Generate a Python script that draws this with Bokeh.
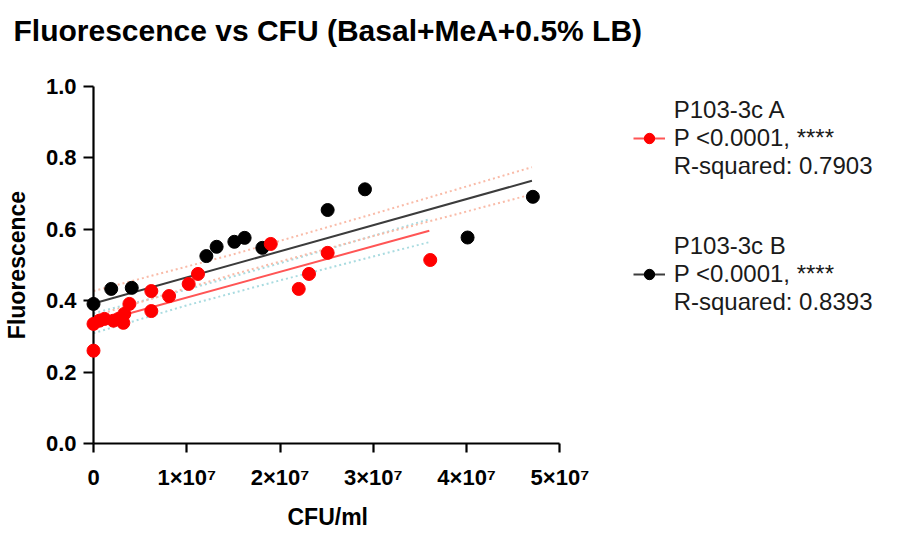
import numpy as np
from bokeh.plotting import figure
from bokeh.models import (Range1d, FixedTicker, PrintfTickFormatter,
                          Legend, LegendItem, Title)
from bokeh.embed import file_html
from bokeh.resources import INLINE

# ---------------- data ----------------
a_name = "P103-3c A"
a_cfu = [0, 0, 0.064e7, 0.118e7, 0.214e7, 0.267e7, 0.32e7, 0.33e7, 0.385e7,
         0.62e7, 0.62e7, 0.81e7, 1.02e7, 1.12e7, 1.9e7, 2.2e7, 2.31e7, 2.51e7, 3.61e7]
a_fluor = [0.260, 0.335, 0.344, 0.349, 0.344, 0.349, 0.338, 0.363, 0.391,
           0.427, 0.371, 0.413, 0.447, 0.475, 0.559, 0.433, 0.475, 0.534, 0.514]

b_name = "P103-3c B"
b_cfu = [0, 0.19e7, 0.41e7, 1.21e7, 1.32e7, 1.51e7, 1.62e7, 1.81e7,
         2.51e7, 2.91e7, 4.01e7, 4.71e7]
b_fluor = [0.391, 0.433, 0.436, 0.525, 0.551, 0.565, 0.576, 0.548,
           0.654, 0.712, 0.577, 0.691]

# regression lines and 95% bands
a_fit_x = [0, 3.6e7]
a_fit_y = [0.337, 0.596]
a_band_x = [0, 1e7, 2e7, 3.6e7]
a_band_upper = [0.365, 0.431, 0.505, 0.628]
a_band_lower = [0.309, 0.387, 0.457, 0.564]

b_fit_x = [0, 4.7e7]
b_fit_y = [0.392, 0.736]
b_band_x = [0, 1.5e7, 3e7, 4.7e7]
b_band_upper = [0.427, 0.530, 0.643, 0.774]
b_band_lower = [0.357, 0.474, 0.581, 0.698]

a_stats = ["P <0.0001, ****", "R-squared: 0.7903"]
b_stats = ["P <0.0001, ****", "R-squared: 0.8393"]

x_ticks = [0, 1e7, 2e7, 3e7, 4e7, 5e7]
x_tick_labels = ["0", "1×10⁷", "2×10⁷", "3×10⁷", "4×10⁷", "5×10⁷"]
y_ticks = [0.0, 0.2, 0.4, 0.6, 0.8, 1.0]

title_text = "Fluorescence vs CFU (Basal+MeA+0.5% LB)"
x_label = "CFU/ml"
y_label = "Fluorescence"

# ---------------- layout ----------------
W, H = 898, 532
ML, MR, MT, MB = 92, 0, 86, 89
AXIS_END_PAGE = 559.0                     # page x of the last x tick
FRAME_BOT = H - MB
px_per_unit = (AXIS_END_PAGE - ML) / (x_ticks[-1] - x_ticks[0])
x_end = x_ticks[0] + (W - MR - ML) / px_per_unit   # frame also hosts the legend

FONT = "Liberation Sans"
RED = "#ff0000"
RED_LINE = "#ff5555"
BLACK_LINE = "#3c3c3c"
BLUE_BAND = "#a9dbe0"
SALMON_BAND = "#f9bba8"

p = figure(width=W, height=H, output_backend="svg", toolbar_location=None,
           x_range=Range1d(x_ticks[0], x_end), y_range=Range1d(0, 1),
           min_border_left=ML, min_border_right=MR,
           min_border_top=MT, min_border_bottom=MB)
p.outline_line_color = None
p.xgrid.visible = False
p.ygrid.visible = False
p.background_fill_color = "white"
p.border_fill_color = "white"
p.title.text = ""

# spacer between frame and title, then the title itself (outermost)
p.add_layout(Title(text=" ", text_font_size="2px", standoff=31), "above")
p.add_layout(Title(text=title_text, text_font=FONT, text_font_style="bold",
                   text_font_size="30px", text_color="black", align="left",
                   offset=12 - ML, standoff=10), "above")

# axes
for ax in (p.xaxis[0], p.yaxis[0]):
    ax.axis_line_width = 2.2
    ax.axis_line_color = "black"
    ax.major_tick_line_width = 2.2
    ax.major_tick_line_color = "black"
    ax.major_tick_in = 0
    ax.minor_tick_line_color = None
    ax.major_label_text_font = FONT
    ax.major_label_text_font_style = "bold"
    ax.major_label_text_font_size = "22px"
    ax.major_label_text_color = "black"
    ax.axis_label_text_font = FONT
    ax.axis_label_text_font_style = "bold"
    ax.axis_label_text_font_size = "23px"
    ax.axis_label_text_color = "black"

xa = p.xaxis[0]
xa.ticker = FixedTicker(ticks=x_ticks)
xa.major_label_overrides = {int(t): lab for t, lab in zip(x_ticks, x_tick_labels)}
xa.bounds = (x_ticks[0], x_ticks[-1])
xa.major_tick_out = 9
xa.major_label_standoff = 12

# x-axis title centred under the axis (not under the wider frame)
XLABEL_CENTER_PAGE = 326
XLABEL_WIDTH = 80
p.add_layout(Title(text=" ", text_font_size="2px", standoff=5), "below")
p.add_layout(Title(text=x_label, text_font=FONT, text_font_style="bold",
                   text_font_size="23px", text_color="black", align="left",
                   offset=XLABEL_CENTER_PAGE - XLABEL_WIDTH / 2 - ML, standoff=0),
             "below")

ya = p.yaxis[0]
ya.ticker = FixedTicker(ticks=y_ticks)
ya.formatter = PrintfTickFormatter(format="%.1f")
ya.bounds = (0, 1)
ya.major_tick_out = 10
ya.major_label_standoff = 7
ya.axis_label = y_label
ya.axis_label_standoff = 13

# confidence bands
p.line(a_band_x, a_band_upper, line_color=BLUE_BAND, line_width=2, line_dash="2 3")
p.line(a_band_x, a_band_lower, line_color=BLUE_BAND, line_width=2, line_dash="2 3")
p.line(b_band_x, b_band_upper, line_color=SALMON_BAND, line_width=2, line_dash="2 3")
p.line(b_band_x, b_band_lower, line_color=SALMON_BAND, line_width=2, line_dash="2 3")

# regression lines
b_line = p.line(b_fit_x, b_fit_y, line_color=BLACK_LINE, line_width=2)
a_line = p.line(a_fit_x, a_fit_y, line_color=RED_LINE, line_width=2)

# points (red on top); overlay level so points on the axes are not cut
b_pts = p.scatter(b_cfu, b_fluor, size=13, fill_color="black", line_color="black",
                  level="overlay")
a_pts = p.scatter(a_cfu, a_fluor, size=13, fill_color=RED, line_color=RED,
                  level="overlay")

# legend inside the (wide) frame, right of the axis end
ITEM_H = 27.5
items = [LegendItem(label=a_name, renderers=[]),
         LegendItem(label=a_stats[0], renderers=[a_line, a_pts]),
         LegendItem(label=a_stats[1], renderers=[]),
         LegendItem(label=" ", renderers=[]),
         LegendItem(label=" ", renderers=[]),
         LegendItem(label=b_name, renderers=[]),
         LegendItem(label=b_stats[0], renderers=[b_line, b_pts]),
         LegendItem(label=b_stats[1], renderers=[])]
leg_height = len(items) * ITEM_H
LEG_LEFT_PAGE = 631.7
LEG_TOP_PAGE = 110.2 - ITEM_H / 2
legend = Legend(items=items,
                location=(LEG_LEFT_PAGE - ML, FRAME_BOT - (LEG_TOP_PAGE + leg_height)),
                padding=0, margin=0, spacing=0,
                glyph_width=32, glyph_height=26, label_height=26,
                label_standoff=9,
                label_text_font=FONT, label_text_font_size="24px",
                label_text_color="#1a1a1a",
                border_line_color=None, background_fill_alpha=0)
p.add_layout(legend, "center")

open("out.html", "w").write(file_html(p, INLINE))
